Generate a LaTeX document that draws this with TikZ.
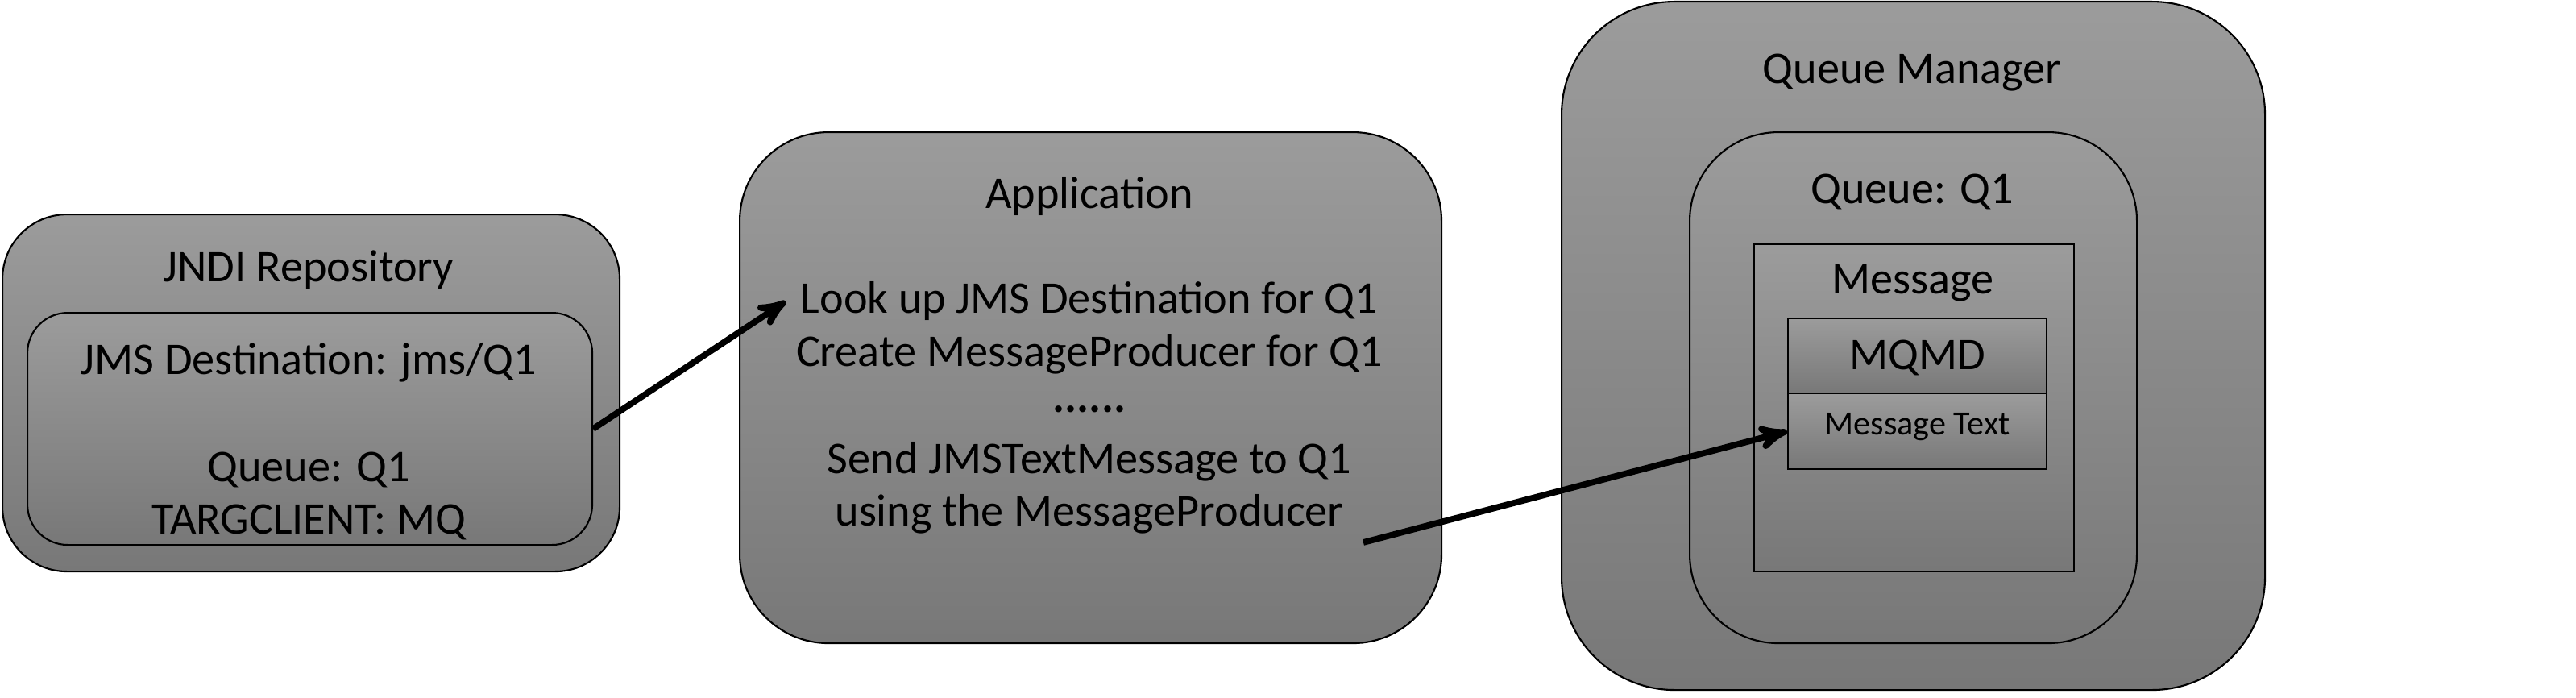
\documentclass[tikz,border=0pt]{standalone}
\usepackage{fontspec}
\setmainfont{Carlito}
\usetikzlibrary{arrows, positioning}
\colorlet{drawColor}{black}
\colorlet{topShade}{black!39}
\colorlet{bottomShade}{black!53}
\tikzstyle{box}=[rectangle, anchor=north west, draw=drawColor, line width=0.6pt,
top color=topShade, bottom color=bottomShade]
\tikzstyle{txt}=[font=\fontsize{16}{18.4}\selectfont, align=center, inner sep=0pt]
\tikzstyle{smalltxt}=[font=\fontsize{12}{14}\selectfont, inner sep=0pt]
\tikzstyle{arrow}=[->, line width=2.2pt, >=stealth', draw=black]

\begin{document}
\begin{tikzpicture}
    \useasboundingbox (0,0) rectangle (31.97,-8.66);
    % JNDI repository
    \node (jndi) [box, rounded corners=0.8cm, minimum width=7.66cm, minimum height=4.43cm] at (0.02,-2.65) {};
    \node (jndiIn) [box, rounded corners=0.5cm, minimum width=7.01cm, minimum height=2.88cm] at (0.33,-3.87) {};
    \node [txt] at (3.83,-3.35) {JNDI Repository};
    \node [txt] at (3.83,-4.50) {JMS Destination: jms/Q1};
    \node [txt] at (3.83,-5.83) {Queue: Q1};
    \node [txt] at (3.83,-6.48) {TARGCLIENT: MQ};
    % application
    \node (app) [box, rounded corners=1.1cm, minimum width=8.71cm, minimum height=6.34cm] at (9.17,-1.63) {};
    \node [txt] at (13.52,-2.44) {Application};
    \node (lookup) [txt] at (13.52,-3.74) {Look up JMS Destination for Q1};
    \node (create) [txt] at (13.52,-4.40) {Create MessageProducer for Q1};
    \node (dots) [txt] at (13.52,-5.08) {\textbf{......}};
    \node (send) [txt] at (13.52,-6.05) {Send JMSTextMessage to Q1\\using the MessageProducer};
    \coordinate (sendOut) at (16.92,-6.73);
    % queue manager
    \node (qm) [box, rounded corners=1.4cm, minimum width=8.73cm, minimum height=8.54cm] at (19.37,-0.01) {};
    \node [txt] at (23.73,-0.90) {Queue Manager};
    \node (queue) [box, rounded corners=1.1cm, minimum width=5.55cm, minimum height=6.34cm] at (20.96,-1.63) {};
    \node [txt] at (23.73,-2.38) {Queue: Q1};
    \node (msg) [box, minimum width=3.97cm, minimum height=4.06cm] at (21.76,-3.02) {};
    \node [txt] at (23.74,-3.51) {Message};
    \node (mqmd) [box, minimum width=3.21cm, minimum height=0.93cm] at (22.18,-3.94) {};
    \node [txt] at ([yshift=-0.02cm]mqmd.center) {MQMD};
    \node (msgText) [box, minimum width=3.21cm, minimum height=0.94cm] at (22.18,-4.87) {};
    \node [smalltxt, below=0.25cm of msgText.north] {Message Text};
    % connectors
    \draw [arrow] (jndiIn.east) -- ([xshift=-0.18cm]lookup.west);
    \draw [arrow] (sendOut) -- (msgText.west);
\end{tikzpicture}
\end{document}
